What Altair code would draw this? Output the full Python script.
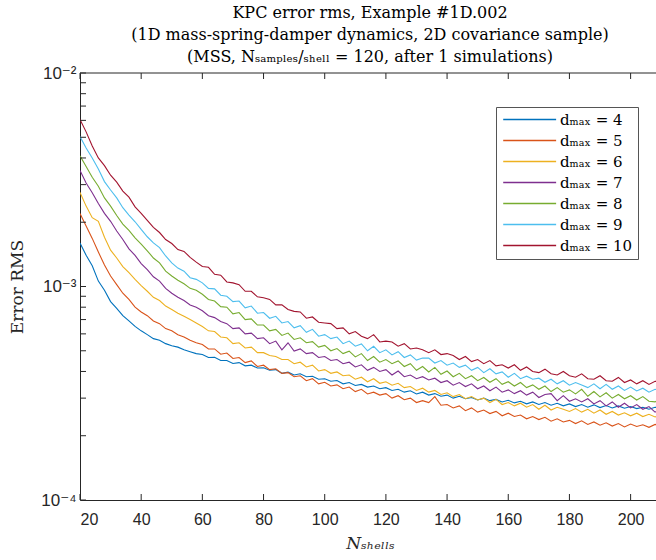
import altair as alt
import pandas as pd

# x values (number of shells)
n_shells = list(range(20, 211, 2))

# Error RMS values, in units of 1e-4
err_d4 = [16.0, 14.0, 12.5, 10.6, 9.6, 8.5, 7.9, 7.3, 6.9, 6.5, 6.2, 5.95, 5.7, 5.6, 5.4, 5.28, 5.2, 5.05, 4.95, 4.85,
          4.8, 4.65, 4.66, 4.5, 4.5, 4.36, 4.4, 4.25, 4.28, 4.15, 4.16, 4.05, 4.08, 3.92, 3.97, 3.85, 3.9, 3.78, 3.8, 3.68,
          3.7, 3.6, 3.63, 3.5, 3.55, 3.44, 3.48, 3.38, 3.42, 3.32, 3.36, 3.26, 3.3, 3.2, 3.25, 3.14, 3.2, 3.1, 3.15, 3.06,
          3.1, 3.0, 3.06, 2.98, 3.02, 2.94, 3.0, 2.92, 2.96, 2.88, 2.93, 2.85, 2.9, 2.82, 2.88, 2.8, 2.86, 2.78, 2.84, 2.76,
          2.82, 2.74, 2.8, 2.72, 2.79, 2.71, 2.77, 2.7, 2.76, 2.69, 2.74, 2.68, 2.72, 2.66, 2.72, 2.7]
err_d5 = [22.0, 19.2, 16.8, 14.5, 12.6, 11.2, 10.2, 9.3, 8.7, 8.0, 7.6, 7.3, 6.9, 6.7, 6.35, 6.2, 5.95, 5.8, 5.6, 5.45,
          5.35, 5.1, 5.1, 4.82, 4.88, 4.6, 4.65, 4.4, 4.48, 4.22, 4.28, 4.08, 4.12, 3.92, 3.95, 3.78, 3.82, 3.62, 3.7, 3.5,
          3.56, 3.42, 3.46, 3.32, 3.38, 3.22, 3.3, 3.14, 3.2, 3.1, 3.15, 3.0, 3.08, 2.95, 3.0, 2.86, 2.92, 2.86, 3.05, 2.78,
          2.8, 2.7, 2.76, 2.62, 2.7, 2.58, 2.64, 2.54, 2.6, 2.48, 2.55, 2.46, 2.5, 2.4, 2.46, 2.38, 2.44, 2.34, 2.4, 2.32,
          2.36, 2.28, 2.35, 2.26, 2.32, 2.24, 2.3, 2.22, 2.28, 2.2, 2.27, 2.21, 2.25, 2.19, 2.26, 2.22]
err_d6 = [27.6, 23.8, 21.0, 20.2, 17.0, 14.8, 13.6, 12.4, 11.6, 10.8, 10.1, 9.5, 8.9, 8.6, 8.1, 7.8, 7.5, 7.25, 7.0, 6.75,
          6.5, 6.2, 6.15, 5.8, 5.75, 5.4, 5.45, 5.15, 5.2, 4.9, 4.9, 4.75, 4.7, 4.55, 4.55, 4.35, 4.42, 4.2, 4.28, 4.02,
          4.08, 3.92, 3.98, 3.82, 3.85, 3.68, 3.76, 3.58, 3.7, 3.52, 3.58, 3.45, 3.52, 3.36, 3.4, 3.26, 3.34, 3.2, 3.26, 3.12,
          3.18, 3.05, 3.12, 2.98, 3.05, 2.94, 3.0, 2.86, 2.96, 2.8, 2.86, 2.76, 2.84, 2.72, 2.8, 2.66, 2.78, 2.64, 2.72, 2.66,
          2.6, 2.68, 2.58, 2.66, 2.55, 2.64, 2.52, 2.6, 2.5, 2.56, 2.48, 2.55, 2.46, 2.52, 2.45, 2.5]
err_d7 = [34.9, 30.5, 27.5, 24.5, 22.0, 20.2, 18.2, 16.6, 15.0, 14.0, 12.8, 12.0, 11.1, 10.6, 9.8, 9.3, 8.9, 8.6, 8.2, 8.0,
          7.7, 7.3, 7.15, 6.85, 6.7, 6.35, 6.4, 6.0, 6.05, 5.7, 5.75, 5.4, 5.55, 5.05, 5.45, 4.98, 5.1, 4.85, 4.9, 4.65,
          4.7, 4.5, 4.55, 4.35, 4.42, 4.2, 4.3, 4.05, 4.18, 4.0, 4.08, 3.85, 4.02, 3.78, 3.85, 3.7, 3.78, 3.65, 3.72, 3.55,
          3.62, 3.45, 3.55, 3.4, 3.5, 3.32, 3.42, 3.25, 3.38, 3.2, 3.28, 3.15, 3.25, 3.1, 3.2, 3.02, 3.12, 3.15, 2.92, 3.08,
          2.9, 2.98, 2.88, 2.98, 2.82, 2.92, 2.76, 2.88, 2.72, 2.84, 2.7, 2.8, 2.66, 2.74, 2.58, 2.66]
err_d8 = [40.9, 36.5, 32.5, 29.5, 26.0, 23.8, 21.5, 19.6, 18.3, 16.9, 15.8, 14.7, 13.6, 12.9, 11.8, 11.2, 10.7, 10.3, 9.8, 9.6,
          9.2, 8.7, 8.55, 8.05, 8.0, 7.45, 7.55, 7.0, 7.05, 6.6, 6.6, 6.2, 6.3, 5.9, 6.05, 5.65, 5.75, 5.45, 5.52, 5.2,
          5.3, 5.0, 5.12, 4.85, 4.98, 4.68, 4.85, 4.5, 4.7, 4.42, 4.55, 4.35, 4.48, 4.22, 4.35, 4.05, 4.22, 3.98, 4.18, 3.88,
          4.02, 3.78, 3.92, 3.7, 3.82, 3.62, 3.75, 3.56, 3.7, 3.48, 3.58, 3.42, 3.55, 3.36, 3.46, 3.3, 3.42, 3.22, 3.36, 3.2,
          3.28, 3.14, 3.3, 3.06, 3.22, 3.04, 3.18, 3.0, 3.12, 2.98, 3.08, 2.94, 3.05, 2.9, 2.88, 3.0]
err_d9 = [50.4, 44.5, 40.0, 35.5, 31.0, 28.3, 26.0, 23.4, 21.6, 20.1, 18.5, 17.1, 16.0, 15.2, 13.9, 12.9, 12.2, 11.8, 11.0, 10.8,
          10.4, 9.8, 9.75, 9.1, 9.0, 8.5, 8.55, 7.95, 8.1, 7.5, 7.55, 7.1, 7.25, 6.75, 6.85, 6.4, 6.55, 6.1, 6.3, 5.85,
          5.95, 5.7, 5.8, 5.4, 5.55, 5.25, 5.38, 5.0, 5.25, 4.9, 5.05, 4.78, 4.95, 4.65, 4.78, 4.52, 4.62, 4.62, 4.38, 4.5,
          4.28, 4.38, 4.18, 4.28, 4.05, 4.18, 3.95, 4.12, 3.9, 3.98, 3.76, 3.92, 3.7, 3.8, 3.68, 3.72, 3.56, 3.68, 3.5, 3.62,
          3.45, 3.55, 3.46, 3.36, 3.5, 3.32, 3.48, 3.3, 3.42, 3.26, 3.38, 3.24, 3.34, 3.2, 3.3, 3.26]
err_d10 = [60.5, 53.0, 45.5, 40.0, 36.8, 33.2, 30.8, 28.0, 26.2, 23.6, 22.0, 20.4, 18.9, 17.9, 16.6, 15.9, 14.9, 14.6, 13.7, 13.0,
           12.4, 12.3, 11.4, 11.3, 10.5, 10.4, 10.2, 9.5, 9.5, 8.95, 8.85, 8.7, 8.2, 8.2, 7.8, 7.65, 7.6, 7.1, 7.2, 6.8,
           6.75, 6.7, 6.35, 6.4, 6.0, 6.15, 5.85, 5.7, 5.95, 5.5, 5.55, 5.5, 5.25, 5.4, 5.1, 5.15, 5.05, 4.9, 5.05, 4.8,
           4.85, 4.75, 4.55, 4.7, 4.45, 4.55, 4.35, 4.5, 4.25, 4.3, 4.15, 4.3, 4.05, 4.2, 4.0, 3.95, 4.1, 3.9, 3.85, 4.0,
           3.82, 3.76, 3.9, 3.7, 3.68, 3.82, 3.62, 3.6, 3.75, 3.55, 3.65, 3.5, 3.62, 3.48, 3.6, 3.56]

d_max = [4, 5, 6, 7, 8, 9, 10]
series_vals = [err_d4, err_d5, err_d6, err_d7, err_d8, err_d9, err_d10]
colors = ["#0072BD", "#D95319", "#EDB120", "#7E2F8E", "#77AC30", "#4DBEEE", "#A2142F"]

x_ticks = list(range(20, 201, 20))
y_major = [1e-4, 1e-3, 1e-2]
y_ticks = [k * 10.0 ** e for e in (-4, -3) for k in range(1, 10)] + [1e-2]

rows = []
for d, vals in zip(d_max, series_vals):
    for n, v in zip(n_shells, vals):
        rows.append({"N": n, "err": v * 1e-4, "dmax": d})
df = pd.DataFrame(rows)

W, H = 576, 427
AX = "#262626"
SERIF = "DejaVu Serif, DejaVu Sans"
SANS = "Liberation Sans, Arial, DejaVu Sans"

xscale = alt.Scale(domain=[20, 208.3], nice=False, zero=False)
yscale = alt.Scale(type="log", domain=[1e-4, 1e-2], nice=False)

x_axis = alt.Axis(values=x_ticks, ticks=False, grid=False, domainColor=AX, domainWidth=1,
                  labelFont=SANS, labelFontSize=16, labelColor=AX, labelPadding=11,
                  title="Nₛₕₑₗₗₛ", titleFont=SERIF, titleFontSize=17, titleFontWeight="normal",
                  titleFontStyle="italic", titleColor=AX, titlePadding=8, titleX=290)
y_axis = alt.Axis(values=y_major, ticks=False, grid=False, domainColor=AX, domainWidth=1,
                  labelExpr="datum.value > 0.005 ? '10⁻²' : (datum.value > 0.0005 ? '10⁻³' : '10⁻⁴')",
                  labelFont=SANS, labelFontSize=17, labelColor=AX, labelPadding=4,
                  title="Error RMS", titleFont=SERIF, titleFontSize=17, titleFontWeight="normal",
                  titleColor=AX, titlePadding=14)

lines = alt.Chart(df).mark_line(strokeWidth=1.1, clip=True).encode(
    x=alt.X("N:Q", scale=xscale, axis=x_axis),
    y=alt.Y("err:Q", scale=yscale, axis=y_axis),
    color=alt.Color("dmax:O", scale=alt.Scale(domain=d_max, range=colors),
                    legend=alt.Legend(orient="none", legendX=416, legendY=34, title=None,
                                      labelExpr="'dₘₐₓ = ' + datum.label",
                                      symbolType="M-1,0L9,0", symbolSize=112, symbolStrokeWidth=1.3,
                                      labelFont=SERIF, labelFontSize=15, labelColor="#000",
                                      labelOffset=44, rowPadding=5, padding=5,
                                      strokeColor="#555555", fillColor="#ffffff")),
)

tick_x_df = pd.DataFrame({"N": x_ticks})
tick_y_df = pd.DataFrame({"err": y_ticks})
one = pd.DataFrame({"k": [0]})

xt_bottom = alt.Chart(tick_x_df).mark_rule(color=AX, strokeWidth=1).encode(
    x=alt.X("N:Q", scale=xscale, axis=x_axis), y=alt.value(H), y2=alt.value(H - 6))
xt_top = alt.Chart(tick_x_df).mark_rule(color=AX, strokeWidth=1).encode(
    x=alt.X("N:Q", scale=xscale, axis=x_axis), y=alt.value(0), y2=alt.value(6))
yt_left = alt.Chart(tick_y_df).mark_rule(color=AX, strokeWidth=1).encode(
    y=alt.Y("err:Q", scale=yscale, axis=y_axis), x=alt.value(0), x2=alt.value(6))
top_frame = alt.Chart(one).mark_rule(color=AX, strokeWidth=1).encode(
    x=alt.value(0), x2=alt.value(W), y=alt.value(0))

title = alt.TitleParams(
    text=["KPC error rms, Example #1D.002",
          "(1D mass-spring-damper dynamics, 2D covariance sample)",
          "(MSS, Nₛₐₘₚₗₑₛ/ₛₕₑₗₗ = 120, after 1 simulations)"],
    font=SERIF, fontSize=16, fontWeight="normal", color="#000000",
    anchor="middle", offset=8, lineHeight=22, dx=2, dy=9)

chart = alt.layer(lines, xt_bottom, xt_top, yt_left, top_frame).properties(
    width=W, height=H, title=title,
    autosize=alt.AutoSizeParams(type="none"),
    padding={"left": 80, "top": 73, "right": 0, "bottom": 60},
).configure_view(stroke=None)

chart.save("out.html", embed_options={"renderer": "svg", "actions": False})
